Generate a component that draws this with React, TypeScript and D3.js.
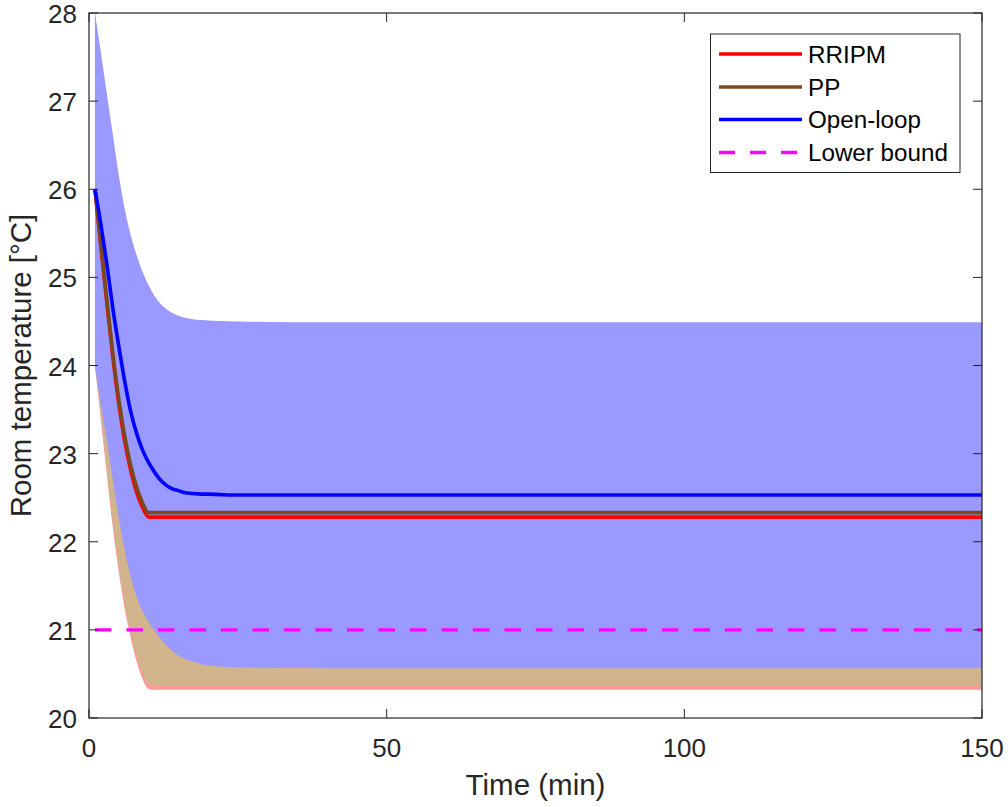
import React from "react";
import * as d3 from "d3";

const time = [1, 2, 3, 4, 5, 6, 7, 8, 9, 10, 11, 12, 13, 14, 15, 16, 17, 18, 19, 20, 22, 25, 30, 40, 60, 80, 100, 120, 150];

const openLoopMean = [26.0, 25.6, 25.15, 24.65, 24.22, 23.82, 23.48, 23.23, 23.04, 22.9, 22.79, 22.7, 22.64, 22.6, 22.58, 22.56, 22.55, 22.545, 22.54, 22.54, 22.535, 22.53, 22.53, 22.53, 22.53, 22.53, 22.53, 22.53, 22.53];
const openLoopUpper = [28.0, 27.55, 27.08, 26.62, 26.16, 25.78, 25.48, 25.25, 25.06, 24.91, 24.79, 24.7, 24.64, 24.595, 24.565, 24.545, 24.53, 24.52, 24.515, 24.51, 24.505, 24.5, 24.495, 24.49, 24.49, 24.49, 24.49, 24.49, 24.49];
const openLoopLower = [24.0, 23.55, 23.15, 22.7, 22.27, 21.9, 21.6, 21.38, 21.21, 21.09, 20.99, 20.9, 20.82, 20.76, 20.71, 20.675, 20.65, 20.63, 20.61, 20.6, 20.585, 20.575, 20.57, 20.565, 20.565, 20.565, 20.565, 20.565, 20.565];

const ppMean = [26.0, 25.37, 24.74, 24.14, 23.62, 23.2, 22.87, 22.62, 22.44, 22.33, 22.33, 22.33, 22.33, 22.33, 22.33, 22.33, 22.33, 22.33, 22.33, 22.33, 22.33, 22.33, 22.33, 22.33, 22.33, 22.33, 22.33, 22.33, 22.33];
const ppUpper = [28.0, 27.33, 26.7, 26.07, 25.56, 25.12, 24.8, 24.56, 24.38, 24.29, 24.29, 24.29, 24.29, 24.29, 24.29, 24.29, 24.29, 24.29, 24.29, 24.29, 24.29, 24.29, 24.29, 24.29, 24.29, 24.29, 24.29, 24.29, 24.29];
const ppLower = [24.0, 23.42, 22.82, 22.22, 21.72, 21.3, 20.96, 20.7, 20.5, 20.38, 20.37, 20.37, 20.37, 20.37, 20.37, 20.37, 20.37, 20.37, 20.37, 20.37, 20.37, 20.37, 20.37, 20.37, 20.37, 20.37, 20.37, 20.37, 20.37];

const rripmMean = [26.0, 25.35, 24.71, 24.1, 23.57, 23.14, 22.81, 22.56, 22.39, 22.28, 22.28, 22.28, 22.28, 22.28, 22.28, 22.28, 22.28, 22.28, 22.28, 22.28, 22.28, 22.28, 22.28, 22.28, 22.28, 22.28, 22.28, 22.28, 22.28];
const rripmUpper = [28.0, 27.3, 26.66, 26.03, 25.5, 25.06, 24.74, 24.5, 24.33, 24.24, 24.24, 24.24, 24.24, 24.24, 24.24, 24.24, 24.24, 24.24, 24.24, 24.24, 24.24, 24.24, 24.24, 24.24, 24.24, 24.24, 24.24, 24.24, 24.24];
const rripmLower = [24.0, 23.38, 22.76, 22.16, 21.66, 21.24, 20.91, 20.64, 20.44, 20.33, 20.32, 20.32, 20.32, 20.32, 20.32, 20.32, 20.32, 20.32, 20.32, 20.32, 20.32, 20.32, 20.32, 20.32, 20.32, 20.32, 20.32, 20.32, 20.32];

const lowerBoundTime = [1, 150];
const lowerBoundValue = [21, 21];

const xTicks = [0, 50, 100, 150];
const yTicks = [20, 21, 22, 23, 24, 25, 26, 27, 28];

const legendLabels = ["RRIPM", "PP", "Open-loop", "Lower bound"];

const W = 1008;
const H = 807;
const L = 89, R = 982, T = 13, B = 718;
const axisColor = "#262626";
const font = "'Liberation Sans', Arial, Helvetica, sans-serif";

export default function App() {
  const x = d3.scaleLinear().domain([0, 150]).range([L, R]);
  const y = d3.scaleLinear().domain([20, 28]).range([B, T]);

  const band = (lo: number[], hi: number[]) =>
    d3.area<number>()
      .x((_, i) => x(time[i]))
      .y0((_, i) => y(lo[i]))
      .y1((_, i) => y(hi[i]))
      .curve(d3.curveMonotoneX)(time) || "";

  const line = (vals: number[]) =>
    d3.line<number>()
      .x((_, i) => x(time[i]))
      .y((_, i) => y(vals[i]))
      .curve(d3.curveMonotoneX)(time) || "";

  const lbPath = d3.line<number>()
    .x((_, i) => x(lowerBoundTime[i]))
    .y((_, i) => y(lowerBoundValue[i]))(lowerBoundTime) || "";

  const legendColors = ["#ff0000", "#7a4a1c", "#0000ff", "#ff00ff"];
  const legendRows = [54, 87, 119.5, 152.5];

  return (
    <svg width={W} height={H} style={{ position: "absolute", left: 0, top: 0, background: "#fff" }} fontFamily={font}>
      <rect x={0} y={0} width={W} height={H} fill="#fff" />
      <defs>
        <clipPath id="plotclip">
          <rect x={L} y={T} width={R - L} height={B - T} />
        </clipPath>
      </defs>
      <g clipPath="url(#plotclip)">
        <path d={band(rripmLower, rripmUpper)} fill="#ff9999" />
        <path d={band(ppLower, ppUpper)} fill="#d2b48c" />
        <path d={band(openLoopLower, openLoopUpper)} fill="#9999ff" />
        <path d={line(rripmMean)} fill="none" stroke="#ff0000" strokeWidth={3.6} />
        <path d={line(ppMean)} fill="none" stroke="#7a4a1c" strokeWidth={3.6} />
        <path d={line(openLoopMean)} fill="none" stroke="#0000ff" strokeWidth={3.6} />
        <path d={lbPath} fill="none" stroke="#ff00ff" strokeWidth={3.3} strokeDasharray="16.5,15" />
      </g>

      {/* axes box */}
      <rect x={L} y={T} width={R - L} height={B - T} fill="none" stroke={axisColor} strokeWidth={1.2} />
      {xTicks.map((t) => (
        <g key={"x" + t}>
          <line x1={x(t)} x2={x(t)} y1={B} y2={B - 9} stroke={axisColor} strokeWidth={1} />
          <line x1={x(t)} x2={x(t)} y1={T} y2={T + 9} stroke={axisColor} strokeWidth={1} />
          <text x={x(t)} y={757} textAnchor="middle" fontSize={26} fill={axisColor}>{t}</text>
        </g>
      ))}
      {yTicks.map((t) => (
        <g key={"y" + t}>
          <line x1={L} x2={L + 9} y1={y(t)} y2={y(t)} stroke={axisColor} strokeWidth={1} />
          <line x1={R} x2={R - 9} y1={y(t)} y2={y(t)} stroke={axisColor} strokeWidth={1} />
          <text x={77} y={y(t) + 10} textAnchor="end" fontSize={26} fill={axisColor}>{t}</text>
        </g>
      ))}
      <text x={(L + R) / 2} y={795} textAnchor="middle" fontSize={29.5} fill={axisColor}>Time (min)</text>
      <text transform={`translate(31, ${(T + B) / 2}) rotate(-90)`} textAnchor="middle" fontSize={29.5} fill={axisColor}>Room temperature [°C]</text>

      {/* legend */}
      <rect x={710.5} y={34} width={249.5} height={138.5} fill="#fff" stroke={axisColor} strokeWidth={1} />
      {legendLabels.map((lab, i) => (
        <g key={lab}>
          <line x1={719} x2={802} y1={legendRows[i]} y2={legendRows[i]} stroke={legendColors[i]} strokeWidth={3.5}
            strokeDasharray={i === 3 ? "16,15" : undefined} />
          <text x={808} y={legendRows[i] + 8.5} fontSize={24.2} fill="#000">{lab}</text>
        </g>
      ))}
    </svg>
  );
}
